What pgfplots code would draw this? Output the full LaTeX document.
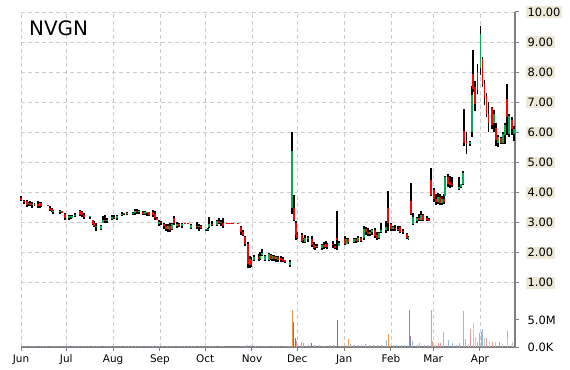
\documentclass[border=0pt]{standalone}
\usepackage{fontspec}
\setmainfont{DejaVu Sans}
\usepackage{pgfplots}
\usepackage{pgfplotstable}
\pgfplotsset{compat=1.18}
\definecolor{labelbg}{RGB}{236,233,216}
\definecolor{upc}{RGB}{0,176,80}
\definecolor{dnc}{RGB}{255,0,0}
\definecolor{v0}{RGB}{160,172,205}
\definecolor{v1}{RGB}{247,150,70}
\definecolor{v2}{RGB}{79,129,189}
\definecolor{v3}{RGB}{200,80,77}
\definecolor{v4}{RGB}{150,130,185}
\definecolor{v5}{RGB}{225,155,150}
\definecolor{v6}{RGB}{170,200,120}
\definecolor{v7}{RGB}{150,185,220}
\definecolor{v8}{RGB}{200,200,205}
\pgfplotstableread{
d o h l c u
0 3.82 3.88 3.71 3.75 0
2 3.70 3.75 3.62 3.68 0
4 3.72 3.74 3.52 3.60 0
5 3.62 3.70 3.55 3.66 1
6 3.65 3.72 3.55 3.58 0
7.3 3.58 3.70 3.50 3.62 1
9 3.62 3.66 3.55 3.60 0
11.3 3.62 3.72 3.50 3.56 0
12.6 3.56 3.70 3.48 3.65 1
13.3 3.65 3.68 3.52 3.55 0
17.9 3.58 3.60 3.55 3.57 0
19.2 3.50 3.54 3.38 3.42 0
20.5 3.45 3.47 3.35 3.38 0
21.2 3.35 3.43 3.30 3.38 1
25.8 3.35 3.41 3.30 3.38 1
27.2 3.38 3.40 3.31 3.33 0
29.1 3.30 3.32 3.10 3.15 0
31.8 3.15 3.27 3.10 3.22 1
33.1 3.18 3.25 3.12 3.20 1
33.8 3.17 3.24 3.14 3.22 1
35.8 3.22 3.32 3.19 3.27 1
39 3.38 3.43 3.21 3.25 0
40.4 3.35 3.38 3.20 3.24 0
41.7 3.24 3.32 3.12 3.18 0
45.7 3.18 3.23 3.12 3.20 1
47.7 3.08 3.10 2.93 2.97 0
48.3 3.00 3.04 2.85 2.88 0
49.7 2.85 2.99 2.71 2.88 1
53 2.80 2.93 2.77 2.90 1
54.3 3.00 3.21 2.99 3.10 1
55.6 3.10 3.27 3.00 3.05 0
57 3.05 3.15 2.99 3.10 1
60.3 3.12 3.27 3.10 3.20 1
61.6 3.20 3.25 3.12 3.15 0
63.6 3.15 3.27 3.10 3.22 1
66.9 3.27 3.34 3.23 3.30 1
68.2 3.30 3.33 3.24 3.28 0
70.2 3.28 3.34 3.24 3.30 1
74.2 3.28 3.34 3.26 3.32 1
75.5 3.33 3.46 3.27 3.40 1
76.8 3.40 3.46 3.30 3.36 0
78.1 3.35 3.42 3.30 3.38 1
80.8 3.35 3.38 3.25 3.30 0
82.1 3.30 3.37 3.25 3.35 1
83.4 3.33 3.36 3.22 3.34 1
84.8 3.34 3.35 3.21 3.25 0
87.4 3.35 3.41 3.20 3.25 0
88.7 3.28 3.38 3.10 3.15 0
90 3.15 3.18 3.08 3.10 0
91.4 2.95 3.10 2.90 3.02 1
92.7 3.00 3.05 2.92 2.98 0
94.7 2.95 2.99 2.80 2.88 0
96 2.90 2.97 2.72 2.80 0
97.4 2.78 2.95 2.68 2.90 1
98.7 2.90 2.99 2.70 2.75 0
100 2.78 2.99 2.75 2.95 1
101.3 3.15 3.23 2.93 2.98 0
103.3 2.90 3.01 2.82 2.95 1
104.6 2.95 3.00 2.85 2.88 0
106.6 2.90 2.99 2.83 2.95 1
108.6 2.98 2.99 2.96 2.96 0
110.6 2.97 2.98 2.95 2.95 0
112.6 2.82 2.97 2.79 2.92 1
116.6 2.90 3.01 2.78 2.85 0
117.9 2.85 2.95 2.72 2.88 1
119.2 2.90 2.93 2.78 2.82 0
122.5 2.74 2.80 2.71 2.78 1
123.8 2.76 2.82 2.72 2.80 1
124.5 2.85 3.19 2.82 2.95 1
126.5 2.95 3.04 2.88 2.92 0
129.8 2.92 3.10 2.88 3.05 1
131.1 3.05 3.16 2.95 2.98 0
132.5 2.98 3.10 2.90 3.00 1
133.8 3.00 3.16 2.82 2.88 0
136.4 2.97 2.97 2.97 2.97 0
137.7 2.97 2.97 2.97 2.97 0
139 2.97 2.97 2.97 2.97 0
140.4 2.97 2.97 2.97 2.97 0
143.7 2.97 2.97 2.97 2.97 0
145.7 2.85 2.88 2.60 2.70 0
147 2.70 2.75 2.57 2.60 0
148.3 2.52 2.54 2.21 2.30 0
150.3 2.30 2.37 1.49 1.62 0
151.7 1.60 1.88 1.50 1.80 1
152.3 1.75 1.85 1.52 1.60 0
154.3 1.75 1.93 1.71 1.85 1
157.6 1.85 1.95 1.72 1.78 0
158.3 1.80 2.04 1.75 1.90 1
159.6 1.92 2.13 1.88 2.00 1
161.6 1.75 1.93 1.71 1.88 1
164.2 1.75 1.99 1.72 1.95 1
165.6 1.92 1.95 1.75 1.80 0
166.2 1.78 1.92 1.74 1.88 1
167.5 1.88 1.93 1.72 1.80 0
168.9 1.80 1.90 1.70 1.85 1
170.2 1.85 1.88 1.69 1.75 0
172.2 1.82 1.88 1.70 1.75 0
173.5 1.78 1.85 1.68 1.72 0
174.8 1.75 1.77 1.66 1.70 0
178.1 1.60 1.77 1.54 1.70 1
179.5 3.50 6.00 3.30 5.38 1
180.8 3.49 3.93 3.04 3.10 0
182.1 3.00 3.05 2.43 2.60 0
182.8 2.60 2.70 2.45 2.50 0
186.1 2.60 2.66 2.35 2.40 0
186.8 2.42 2.50 2.32 2.45 1
188.1 2.35 2.60 2.33 2.50 1
190.1 2.45 2.55 2.35 2.50 1
192.7 2.45 2.54 2.20 2.25 0
194 2.25 2.35 2.12 2.15 0
194.7 2.18 2.30 2.10 2.20 1
196 2.20 2.30 2.16 2.22 1
199.3 2.15 2.30 2.10 2.25 1
200.7 2.25 2.35 2.12 2.20 0
202 2.20 2.38 2.15 2.30 1
202.6 2.28 2.32 2.12 2.18 0
206.6 2.30 2.38 2.15 2.25 0
208 2.22 2.30 2.12 2.15 0
209.3 2.48 3.38 2.10 2.41 0
210.6 2.22 2.38 2.21 2.32 1
214.6 2.45 2.54 2.27 2.30 0
215.9 2.30 2.50 2.28 2.45 1
216.6 2.45 2.50 2.30 2.35 0
220.5 2.35 2.49 2.32 2.45 1
221.9 2.45 2.48 2.33 2.38 0
223.2 2.38 2.54 2.34 2.50 1
225.2 2.48 2.52 2.35 2.40 0
227.2 2.50 2.88 2.43 2.80 1
228.5 2.78 2.85 2.60 2.70 0
229.8 2.70 2.82 2.55 2.62 0
231.1 2.62 2.75 2.54 2.70 1
232.5 2.70 2.80 2.60 2.75 1
234.4 2.75 2.82 2.50 2.55 0
235.8 2.58 2.70 2.43 2.50 0
237.1 2.50 2.70 2.45 2.65 1
238.4 2.70 2.99 2.66 2.75 1
241.7 2.75 3.04 2.66 2.85 1
243 3.49 4.04 2.71 2.99 0
245 2.95 2.99 2.71 2.78 0
246.4 2.80 2.90 2.72 2.85 1
247.7 2.82 2.93 2.72 2.78 0
249.7 2.80 2.88 2.72 2.75 0
251 2.85 2.88 2.65 2.70 0
253 2.72 2.80 2.63 2.68 0
255.6 2.62 2.66 2.45 2.50 0
256.6 2.45 2.54 2.41 2.52 1
258.3 3.71 4.32 3.27 3.30 0
259.6 2.95 3.32 2.93 3.20 1
262.3 3.05 3.20 2.99 3.15 1
263.6 3.15 3.30 3.05 3.10 0
264.9 3.10 3.38 3.05 3.25 1
266.2 3.25 3.30 3.05 3.10 0
268.9 3.15 3.21 3.06 3.10 0
270.2 3.12 3.15 3.04 3.07 0
271.5 4.43 4.82 3.88 3.93 0
273.5 4.10 4.15 3.70 3.80 0
274.8 3.80 3.95 3.60 3.70 0
276.2 3.70 4.00 3.62 3.85 1
277.5 3.85 3.95 3.60 3.65 0
278.8 3.65 3.90 3.60 3.80 1
280.1 3.80 3.95 3.62 3.70 0
280.8 3.90 4.55 3.88 4.50 1
282.8 4.50 4.60 4.20 4.30 0
284.1 4.35 4.55 4.15 4.25 0
285.4 4.30 4.50 4.20 4.25 0
290 4.12 4.50 4.10 4.20 1
291.4 4.20 4.30 4.15 4.28 1
292.7 4.30 4.71 4.25 4.65 1
293.5 6.04 6.77 5.55 5.65 0
294.9 5.70 6.00 5.27 5.60 0
297.4 5.60 5.72 5.55 5.68 1
298.7 6.00 7.55 5.85 7.25 1
299.5 7.95 8.75 7.35 7.45 0
300.8 7.50 7.70 6.70 6.95 0
302.5 8.00 8.27 7.27 7.40 0
304.3 8.15 9.54 7.90 9.27 1
305.6 8.45 8.50 7.50 7.60 0
306.8 7.60 7.75 6.90 7.15 0
308.3 7.20 7.30 6.50 6.60 0
309.8 6.60 7.00 6.00 6.30 0
311.9 6.80 6.85 6.10 6.25 0
313.2 6.30 6.75 6.00 6.60 1
314.6 6.15 6.30 5.55 5.75 0
315.9 5.65 5.90 5.50 5.85 1
317.9 5.80 5.85 5.60 5.65 0
319.2 5.65 6.00 5.60 5.95 1
320.5 5.90 6.30 5.60 6.25 1
321.9 7.10 7.60 5.90 6.50 0
323.2 5.95 6.60 5.85 6.55 1
325.2 6.40 6.50 5.90 6.10 0
326.5 6.10 6.20 5.70 5.95 1
}\candles
\pgfplotstableread{
d v k
1 0.12 0
3 0.10 0
6 0.15 0
8 0.10 0
10 0.12 0
13 0.18 0
15 0.10 0
17 0.12 0
20 0.15 0
22 0.10 0
24 0.12 0
27 0.14 0
29 0.10 0
31 0.16 0
34 0.12 0
36 0.10 0
38 0.13 0
41 0.12 0
43 0.10 0
45 0.15 0
48 0.12 0
50 0.10 0
52 0.14 0
55 0.12 0
57 0.10 0
59 0.12 0
62 0.15 0
64 0.10 0
66 0.12 0
69 0.14 0
71 0.10 0
73 0.12 0
76 0.15 0
78 0.10 0
80 0.12 0
83 0.12 0
85 0.10 0
87 0.14 0
90 0.12 0
92 0.10 0
94 0.15 0
97 0.12 0
99 0.10 0
101 0.12 0
104 0.14 0
106 0.10 0
108 0.12 0
111 0.12 0
113 0.10 0
115 0.14 0
118 0.12 0
120 0.10 0
122 0.12 0
125 0.15 0
127 0.10 0
129 0.12 0
132 0.14 0
134 0.10 0
146 0.15 0
148 0.20 0
150 0.45 0
152 0.30 0
155 0.15 0
157 0.12 0
160 0.15 0
162 0.12 0
164 0.15 0
167 0.12 0
169 0.14 0
171 0.12 0
174 0.15 0
176 0.12 0
178 0.20 0
179.5 6.85 1
180.8 4.70 2
182.1 1.65 2
182.8 1.10 5
186.1 0.90 0
187.4 0.80 0
190.1 0.30 0
192.7 0.70 3
194.7 0.30 0
198 0.30 0
201.3 0.25 0
204.6 0.30 0
207.3 0.30 0
209.9 5.00 3
211.9 0.20 0
216.6 1.40 1
218.5 0.50 0
221.2 0.30 0
223.8 0.40 0
225.8 0.30 0
228.5 0.50 0
231.1 0.30 0
233.8 0.30 0
236.4 0.30 0
239.1 0.40 0
242.4 1.25 7
243.7 2.40 1
246.4 0.40 0
249 0.30 0
251.7 0.30 0
254.3 0.30 0
257.6 6.85 4
258.3 2.10 4
259.6 1.10 7
262.3 0.40 0
264.2 0.70 6
267.5 0.30 0
270.2 0.30 0
272.2 6.85 5
272.8 1.10 5
274.8 0.40 0
276.2 0.80 5
278.1 0.70 5
280.1 2.84 6
283.4 1.30 7
286.1 0.70 0
288.7 0.30 0
290.7 0.80 7
293.4 6.67 7
294.7 1.40 7
296.7 0.60 8
298 3.33 5
299.5 4.40 8
301.3 1.90 8
302.6 1.00 5
304 2.50 5
305.3 2.70 5
306 3.25 7
307.3 1.60 8
308.6 1.60 5
310.6 1.00 8
312.6 1.00 5
314.6 0.90 8
316.6 0.90 5
319.2 0.50 8
321.9 1.60 8
322.5 2.90 5
325.8 0.90 8
}\volumes
\pgfplotsset{
  bar/.style 2 args={draw=none, mark=none, forget plot,
    error bars/.cd, y dir=plus, y explicit, error mark=none,
    error bar style={draw=#1, line width=#2, solid}},
}
\newcommand\vol[2]{%
  \addplot[bar={#2}{1bp}] table[x=d, y expr={\thisrow{k}==#1 ? -1.1333 : nan}, y error plus expr={\thisrow{v}*0.18}] {\volumes};}
\begin{document}
\begin{tikzpicture}
\path[use as bounding box] (-21bp,-23bp) rectangle (549bp,347bp);
\begin{axis}[
  at={(0,0)}, anchor=south west,
  scale only axis, width=494bp, height=335bp,
  xmin=0, xmax=327.2, ymin=-1.1333, ymax=10,
  axis x line*=bottom, axis y line*=right,
  axis line style={draw=black!50, line width=1.2bp},
  tick align=outside, major tick length=4bp,
  tick style={draw=black!50, line width=1bp},
  xtick={0,30,61,92,122,153,183,214,245,273,304},
  xticklabels={Jun,Jul,Aug,Sep,Oct,Nov,Dec,Jan,Feb,Mar,Apr},
  ytick={1,2,3,4,5,6,7,8,9,10},
  yticklabel={\pgfmathprintnumber[fixed,fixed zerofill,precision=2]{\tick}},
  /pgf/number format/assume math mode=true,
  xticklabel style={font=\fontsize{10.5}{12}\selectfont, text=black},
  yticklabel style={font=\fontsize{11.5}{13}\selectfont, fill=labelbg, inner sep=1.5bp, text=black, xshift=7bp},
  extra y ticks={-1.1333,-0.2333},
  extra y tick labels={0.0K,5.0M},
  extra y tick style={grid=none, yticklabel style={fill=none}},
  grid=major,
  major grid style={dash pattern=on 4bp off 3bp, draw=black!20, line width=0.8bp},
  unbounded coords=discard,
  clip=false,
]
\vol{0}{v0}
\vol{1}{v1}
\vol{2}{v2}
\vol{3}{v3}
\vol{4}{v4}
\vol{5}{v5}
\vol{6}{v6}
\vol{7}{v7}
\vol{8}{v8}
\addplot[bar={black}{1.4bp}] table[x=d, y=l, y error plus expr={\thisrow{h}-\thisrow{l}}] {\candles};
\addplot[bar={upc}{1.4bp}] table[x=d, y expr={\thisrow{u}==1 ? min(\thisrow{o},\thisrow{c}) : nan}, y error plus expr={max(abs(\thisrow{c}-\thisrow{o}),0.03)}] {\candles};
\addplot[bar={dnc}{1.4bp}] table[x=d, y expr={\thisrow{u}==0 ? min(\thisrow{o},\thisrow{c}) : nan}, y error plus expr={max(abs(\thisrow{c}-\thisrow{o}),0.03)}] {\candles};
\node[anchor=base west, inner sep=0, font=\fontsize{20}{24}\selectfont, xshift=8bp, yshift=-24bp] at (rel axis cs:0,1) {NVGN};
\end{axis}
\end{tikzpicture}
\end{document}
